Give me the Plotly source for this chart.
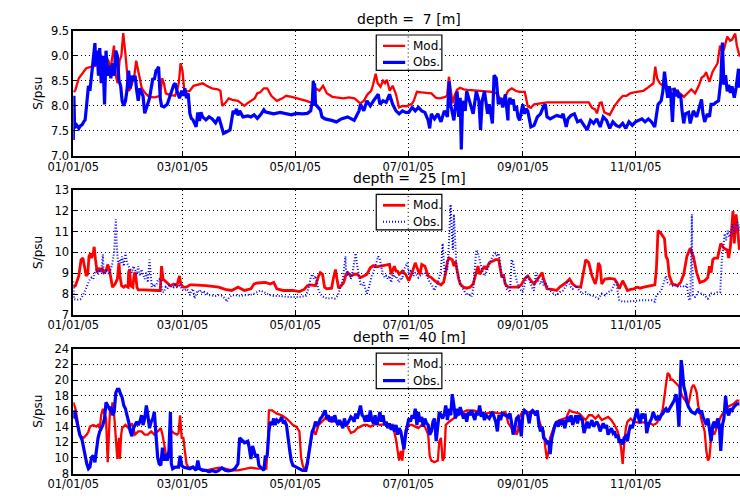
import pandas as pd
import plotly.graph_objects as go

# Salinity (S/psu) at three depths, 2005: model vs. observations.
# Each series is a list of (day-of-year offset from 2005-01-01, salinity) rows.

mod_7m = [(0,8.28),(1,8.30),(3,8.55),(5,8.65),(7,8.75),(10,8.78),(12,8.80),(14,9.05),(15,9.0),(16,8.7),
    (18,8.95),(19,8.9),(20,8.7),(22,9.2),(23,8.6),(24,8.45),(25,8.9),(26,9.0),(27,9.45),(28,9.1),(29,8.7),
    (30,8.3),(31,8.35),(33,8.6),(34,8.9),(35,8.7),(36,8.5),(37,8.35),(39,8.25),(41,8.18),(44,8.17),(47,8.2),
    (48,8.55),(49,8.45),(50,8.25),(52,8.22),(55,8.2),(56,8.3),(57,8.45),(58,8.85),(59,8.7),(60,8.3),(61,8.28),
    (63,8.3),(65,8.4),(67,8.42),(70,8.45),(72,8.4),(75,8.35),(78,8.33),(79.5,8.3),(80.5,8.0),(82,8.05),(84,8.15),
    (86,8.12),(89,8.1),(91,8.05),(92.5,8.0),(94,8.05),(96,8.1),(98,8.15),(99.5,8.25),(101,8.27),(103,8.35),
    (104.8,8.35),(107,8.2),(110,8.1),(113,8.15),(115,8.2),(118,8.18),(121,8.15),(124,8.13),(126,8.1),(128,8.07),
    (130,8.1),(131,8.35),(133,8.3),(135,8.4),(137,8.25),(140,8.18),(143,8.17),(146,8.15),(149,8.17),(152,8.15),
    (155,8.05),(157,8.1),(159,8.23),(161,8.3),(162,8.42),(163.4,8.64),(164.5,8.45),(166,8.38),(167.4,8.5),
    (168.5,8.45),(169.5,8.52),(171,8.3),(172.6,8.4),(174.4,8.23),(176,7.97),(178,8.0),(180,7.99),(183,8.04),
    (184,8.1),(185.7,8.28),(188,8.27),(191,8.26),(193.5,8.25),(196,8.16),(198,8.15),(201,8.18),(202,8.2),
    (203,8.58),(204,8.3),(205,8.05),(206,8.2),(207.4,8.32),(209,8.36),(211,8.33),(213,8.32),(215,8.31),(218,8.3),
    (220,8.3),(223,8.29),(226,8.28),(229,8.25),(231,8.12),(233,8.15),(235,8.3),(237,8.35),(239,8.3),(241,8.28),
    (244,8.28),(245.6,7.99),(247.3,7.96),(249,8.03),(252,8.05),(256,8.07),(260,8.07),(265,8.07),(270,8.08),
    (275,8.07),(278.6,8.07),(280.3,7.96),(282,7.93),(283,7.85),(284.5,8.06),(285.5,8.07),(287,7.87),(289.9,7.82),
    (292.5,8.0),(295,8.12),(297,8.2),(299,8.2),(301,8.25),(303,8.27),(306,8.28),(308,8.3),(310,8.35),(312,8.4),
    (313.5,8.45),(314.5,8.78),(315.5,8.55),(317,8.45),(319,8.38),(321,8.33),(324.7,8.33),(327,8.28),(330,8.18),
    (332,8.25),(334,8.33),(336,8.25),(338,8.4),(339.5,8.56),(341,8.6),(342,8.67),(343.8,8.48),(345.5,8.68),
    (347,8.78),(348.2,8.85),(349.5,9.2),(350.5,9.1),(351.6,9.12),(353.4,9.38),(355,9.3),(356,9.32),(357.7,9.44),
    (358.6,9.2),(360,9.0),(362,9.0),(364,9.1)]

obs_7m = [(0,7.32),(0.35,8.2),(0.7,7.55),(1.2,7.65),(2.1,7.6),(3,7.55),(3.8,7.6),(4.7,7.62),(5.6,7.68),(6.4,7.72),
    (7.3,8.05),(8.2,8.4),(9,8.3),(9.9,8.6),(10.8,8.85),(11.7,9.25),(12.2,8.8),(12.9,9.1),(13.6,8.6),(14.3,9.15),
    (15.1,8.45),(16,9.0),(16.9,8.03),(17.7,9.1),(18.6,8.6),(19.5,8.8),(20.3,8.55),(21.2,8.85),(22.1,8.6),(23,9.1),
    (23.8,9.0),(24.7,8.5),(25.6,8.4),(26.4,8.1),(27.3,8.0),(28.2,8.1),(29,8.3),(29.9,8.7),(30.8,8.35),(31.7,8.6),
    (32.5,8.5),(33.4,8.6),(34.3,8.3),(35.1,8.1),(36,8.35),(36.9,8.25),(37.7,8.2),(38.6,7.85),(39.5,7.95),
    (40.3,8.05),(41.2,8.15),(42.1,8.35),(43,8.55),(43.8,8.52),(44.7,8.7),(45.6,8.74),(46.1,8.78),(47,8.15),
    (47.7,8.0),(49,7.98),(50.8,8.03),(52.5,8.22),(54.3,8.42),(55.1,8.45),(56,8.3),(57.4,8.15),(58.6,8.3),
    (59.5,8.2),(60.3,8.35),(61.2,8.15),(62.1,8.25),(63,7.85),(63.8,7.75),(64.7,7.72),(65.6,7.65),(66.4,7.58),
    (67.3,7.87),(68.2,7.7),(69,7.87),(69.9,7.78),(71.7,7.72),(73.4,7.78),(75.1,7.74),(76.9,7.66),(78.6,7.78),
    (80.3,7.58),(81.2,7.45),(82.9,7.48),(84.7,7.52),(85.6,7.72),(86.4,7.9),(87.3,7.84),(88.2,7.94),(89,7.81),
    (89.9,7.9),(91.7,7.78),(94.3,7.8),(96,7.78),(97.7,7.82),(99.5,7.75),(101.2,7.82),(103,7.92),(103.8,7.88),
    (104.8,7.87),(108.3,7.84),(111.8,7.87),(115.2,7.85),(117.8,7.82),(120.5,7.85),(123.9,7.84),(126.5,7.85),
    (128.3,7.9),(129.2,8.1),(129.7,8.5),(130.1,8.0),(130.4,8.45),(130.9,8.03),(133.5,7.92),(134.4,7.78),
    (136.1,7.74),(139.6,7.71),(142.2,7.68),(144.8,7.74),(148.3,7.78),(151.8,7.71),(154.4,7.9),(155.2,8.03),
    (157,7.9),(158.7,8.1),(160.5,8.0),(162.2,8.1),(164.8,8.23),(165.7,8.03),(167.4,8.1),(169.1,8.07),(170.9,8.23),
    (172.6,8.03),(174.4,7.9),(176.1,7.84),(177.9,7.9),(179.6,7.87),(181.3,7.87),(183.1,7.97),(184.8,7.9),
    (186.5,7.97),(188.3,7.9),(190,7.87),(191.8,7.71),(192.6,7.55),(193.5,7.84),(195.2,7.74),(197,7.84),
    (198.7,7.68),(200.5,7.9),(202.2,7.78),(203.1,8.49),(203.9,8.03),(205.7,7.71),(207.4,8.29),(208.3,7.78),
    (209.1,8.16),(209.7,7.13),(210.4,8.1),(211.8,7.9),(212.6,8.29),(214.4,8.03),(216.1,7.84),(217.8,8.29),
    (219.2,8.1),(220.1,7.52),(221,8.1),(222.2,8.29),(223.9,7.84),(224.8,8.03),(226.5,7.65),(227.4,8.61),
    (228.6,8.55),(229.7,8.03),(230.9,8.16),(232.1,7.97),(233.5,8.23),(234.9,7.71),(235.1,8.03),(236,8.16),
    (236.9,8.03),(237.7,8.13),(238.6,7.9),(239.5,8.0),(240.3,7.78),(241.2,7.71),(242.1,7.9),(242.9,8.03),
    (243.8,7.84),(244.7,7.94),(245.6,7.9),(246.4,7.78),(247.3,7.58),(249,7.61),(249.9,7.71),(250.8,7.78),
    (252.5,7.84),(254.2,8.0),(255.1,8.03),(256,7.78),(257.7,7.74),(259.5,7.78),(261.2,7.81),(263.8,7.78),
    (264.7,7.84),(266.4,7.58),(267.3,7.74),(269,7.81),(270.8,7.84),(272.5,7.68),(274.2,7.71),(276,7.61),
    (277.7,7.52),(279.5,7.71),(281.2,7.65),(282.9,7.74),(284.7,7.58),(286.4,7.78),(288.2,7.71),(289.9,7.55),
    (291.6,7.68),(293.4,7.61),(295.1,7.58),(296.9,7.65),(298.6,7.55),(300.3,7.68),(302.1,7.61),(303.8,7.68),
    (305.6,7.71),(307.3,7.74),(309,7.68),(310.8,7.74),(312.5,7.68),(314.2,7.58),(316,8.03),(317.7,8.1),
    (318.6,8.29),(319.5,8.68),(320.3,8.42),(321.2,8.16),(322.1,8.39),(322.9,8.23),(323.8,7.68),(324.7,8.36),
    (325.6,8.19),(326.4,8.32),(327.3,8.16),(328.2,8.23),(329,7.9),(329.9,7.65),(330.8,7.84),(332.5,7.87),
    (333.4,7.65),(335.1,7.9),(336.9,7.78),(338.6,8.03),(339.5,8.13),(340.3,7.84),(341.2,7.68),(342.6,7.84),
    (343.8,7.78),(344.7,8.03),(346.1,8.03),(347.3,8.07),(348.7,8.1),(349.9,8.49),(350.8,9.26),(351.6,8.42),
    (352.5,8.61),(353.4,8.29),(354.2,8.42),(355.1,8.26),(356,8.39),(357.2,8.16),(358.2,8.36),(359.5,8.74),(360,8.36)]

mod_25m = [(0,8.33),(1.2,8.40),(3,8.87),(4.2,9.65),(5.2,9.73),(6.1,9.18),(7,8.87),(7.8,8.95),(8.5,9.81),(9.4,9.96),
    (9.9,9.73),(10.8,9.96),(11.3,10.27),(12,9.65),(12.9,9.03),(13.6,9.26),(14.6,9.10),(15.5,9.26),(16.5,9.03),
    (17.7,9.10),(18.6,9.42),(19.5,9.18),(20.3,8.72),(21.2,8.33),(22.6,8.48),(23.8,8.72),(24.7,9.50),(25.2,8.87),
    (26.1,8.40),(27.3,8.33),(28.2,8.40),(29.6,8.33),(29.9,9.03),(30.4,9.18),(31.1,8.40),(32.2,8.33),(33,9.03),
    (33.7,8.95),(34.4,8.33),(35.1,8.20),(38.6,8.20),(42.1,8.17),(45.6,8.17),(47,8.17),(47.7,9.34),(48.5,8.72),
    (49.4,8.64),(50.8,8.56),(52.5,8.40),(54.3,8.48),(56,8.40),(57.4,8.87),(58.1,8.48),(59.5,8.33),(61.2,8.33),
    (63,8.44),(64.7,8.44),(71.7,8.40),(78.6,8.33),(82.1,8.22),(85.6,8.17),(89,8.33),(92.5,8.17),(96,8.25),
    (97.7,8.48),(99.5,8.53),(103.8,8.56),(106.5,8.48),(108.3,8.56),(110,8.25),(113.5,8.17),(118.7,8.17),
    (122.2,8.12),(124.8,8.22),(126.5,8.40),(128.3,8.44),(130.9,8.40),(132.6,8.87),(133.5,9.03),(134.7,8.95),
    (135.8,8.33),(137,8.25),(139.6,8.28),(140.5,8.72),(141.7,9.18),(142.5,8.72),(143.4,8.28),(144.8,8.40),
    (146.2,8.56),(147.4,8.95),(148.3,9.03),(150,8.87),(151.8,8.95),(153.5,8.95),(155.2,8.79),(157,8.87),
    (158.7,8.95),(160.5,9.26),(162.2,9.37),(163.9,9.31),(165.7,9.34),(167.4,9.37),(169.1,9.37),(170.9,9.42),
    (171.8,8.95),(172.6,9.18),(173.5,9.34),(174.4,9.10),(175.2,9.10),(176.1,8.95),(177.8,9.10),(179.6,8.95),
    (181.3,8.64),(183.1,9.03),(184.8,9.50),(186.5,9.10),(187.4,8.95),(188.3,9.42),(190,9.34),(191.8,8.87),
    (193.5,8.79),(195.2,8.64),(197,8.53),(198.7,8.44),(200.1,8.56),(201.3,9.03),(202.2,9.57),(203.1,9.73),
    (204.8,9.65),(205.7,9.34),(206.5,9.57),(207.4,9.03),(208.3,8.72),(209.1,8.48),(210.9,8.33),(212.6,8.28),
    (214.4,8.33),(216.1,8.48),(217.8,9.03),(218.7,9.34),(219.6,8.95),(221,9.18),(222.2,9.34),(223.1,9.18),
    (224.8,9.50),(226.5,9.57),(228.2,9.65),(229.9,9.65),(230.8,9.18),(231.6,8.79),(232.5,8.95),(233.4,8.48),
    (235.1,8.33),(237.7,8.33),(240.3,8.33),(242.1,8.44),(243.8,8.72),(245.6,8.87),(247.3,8.64),(249,8.48),
    (250.8,8.72),(252.5,8.95),(253.4,9.03),(254.2,8.72),(256,8.25),(258.6,8.22),(261.2,8.17),(262.9,8.33),
    (264.7,8.44),(266.4,8.56),(268.2,8.72),(269.9,8.48),(271.6,8.36),(274.2,8.33),(276,9.18),(276.9,9.65),
    (278.6,9.50),(280.3,8.87),(282.1,8.48),(282.9,8.79),(283.8,9.50),(284.7,9.34),(285.6,8.48),(287.3,8.72),
    (289.9,8.75),(292.5,8.72),(294.2,8.48),(295.1,8.25),(296.9,8.64),(298.1,8.40),(299.5,8.17),(301.2,8.22),
    (302.9,8.25),(304.7,8.33),(306.4,8.28),(308.2,8.33),(309.9,8.37),(311.6,8.40),(314.3,8.44),(315.1,9.18),
    (316,11.05),(317.7,10.9),(319.5,10.66),(320.3,9.81),(321.2,9.65),(322.1,8.87),(323.8,8.48),(326.4,8.40),
    (328.2,8.56),(329.9,8.95),(331.6,9.81),(333.4,10.2),(335.1,9.81),(336.9,9.03),(338.6,8.56),(341.2,8.64),
    (342.9,8.79),(343.8,9.34),(344.7,9.03),(345.6,9.65),(346.4,9.73),(348.2,9.73),(349.9,10.43),(351.6,10.2),
    (353.4,10.12),(354.2,9.73),(355.1,10.27),(356.5,11.99),(357.2,10.43),(358.2,11.83),(358.9,11.2),(360,10.12)]

obs_25m = [(0,8.6),(0.4,7.75),(2.1,7.72),(3.8,7.75),(4.7,7.85),(5.6,8.0),(6.4,8.2),(7.3,8.35),(8.2,8.55),(9,8.72),
    (9.9,8.79),(10.8,8.72),(11.7,9.03),(12.5,9.18),(13.4,8.95),(14.2,9.1),(15.1,9.03),(16,9.9),(16.4,9.0),
    (16.9,8.95),(17.7,9.2),(18.6,9.03),(19.5,8.95),(20.3,9.18),(21.2,9.5),(22.1,10.04),(22.6,10.8),(23,11.6),
    (23.5,10.3),(24.2,9.5),(25,9.65),(25.9,9.5),(26.4,9.81),(27.3,9.34),(28.2,10.0),(29,9.5),(29.9,9.34),
    (30.8,9.18),(31.7,9.03),(32.5,9.34),(33.4,9.18),(34.3,8.95),(35.1,9.34),(36,8.87),(36.9,9.18),(37.7,8.95),
    (38.6,8.72),(39.5,9.03),(40.3,8.56),(41.2,9.65),(41.7,8.87),(42.4,8.33),(43.3,8.48),(44.2,8.40),(45,8.48),
    (45.9,8.72),(47,8.72),(48.2,8.09),(49,8.09),(49.9,8.33),(50.8,8.25),(51.7,8.40),(52.5,8.33),(53.4,8.40),
    (54.3,8.33),(55.1,8.44),(56,8.33),(56.9,8.33),(57.7,8.48),(58.6,8.22),(59.5,8.17),(60.3,8.17),(61.2,8.25),
    (62.1,8.17),(63,7.94),(63.8,8.17),(64.7,8.25),(65.6,7.78),(66.4,8.02),(67.3,8.17),(68.2,8.09),(69,8.17),
    (69.9,8.02),(70.8,8.09),(71.7,7.94),(72.5,8.02),(73.4,7.94),(75.1,7.91),(76.9,7.91),(78.6,7.94),(80.3,7.91),
    (82.1,7.78),(83,7.63),(83.8,7.78),(85.6,7.94),(87.3,7.94),(89,7.91),(90.8,7.91),(92.5,7.94),(94.3,7.94),
    (96,7.97),(97.7,8.02),(99.5,8.09),(101.2,8.17),(103,8.09),(104.8,8.02),(106.5,7.94),(108.3,7.91),
    (111.8,7.91),(115.2,7.86),(118.7,7.86),(122.2,7.86),(125.7,7.91),(126.5,8.09),(127.4,8.40),(128.3,8.79),
    (129.1,8.95),(130,8.72),(130.9,8.87),(131.8,8.56),(132.6,8.17),(133.5,8.02),(134.4,7.91),(136.1,7.81),
    (137.8,7.78),(139.6,7.81),(141.3,7.78),(143.1,7.94),(143.9,8.17),(144.8,8.40),(145.7,8.72),(146.5,9.34),
    (147.1,9.81),(147.4,9.18),(148.3,8.95),(149.1,9.03),(150,8.72),(150.9,9.03),(151.8,9.65),(152.6,9.96),
    (153.5,9.34),(154.4,8.79),(155.2,8.48),(156.1,8.40),(157,8.56),(157.8,8.25),(158.7,8.02),(159.6,8.25),
    (160.5,8.56),(161.3,8.87),(162.2,9.03),(163.1,9.34),(163.9,9.5),(164.8,9.81),(165.7,9.65),(166.5,9.34),
    (167.4,8.95),(168.3,8.79),(169.1,8.87),(170,8.72),(170.9,8.87),(171.8,8.56),(172.6,8.95),(173.5,8.79),
    (174.4,8.87),(176.1,8.56),(177,8.79),(177.8,8.72),(178.7,9.18),(179.6,9.34),(180.5,9.5),(181.3,8.95),
    (182.2,9.1),(183.1,9.03),(183.9,8.87),(184.8,9.03),(186.5,8.79),(188.3,8.95),(190,9.03),(191.8,8.72),
    (192.6,8.56),(193.5,8.48),(194.4,8.33),(195.2,8.17),(196.1,8.40),(197,8.56),(197.8,8.79),(198.7,9.18),
    (199.6,10.43),(200.1,9.65),(200.8,8.87),(201.3,9.34),(202.2,9.18),(203.1,10.58),(203.9,12.3),(204.5,11.2),
    (205.1,10.12),(205.7,11.83),(206.2,10.58),(206.9,9.65),(207.4,9.03),(208.3,8.87),(209.1,8.48),(210,8.33),
    (210.9,8.17),(211.8,8.09),(212.6,7.94),(213.5,8.02),(214.4,7.94),(215.2,7.86),(216.1,8.25),(217,9.18),
    (217.8,10.12),(218.7,9.96),(219.6,9.65),(220.5,9.34),(221.3,9.03),(222.2,8.87),(223.1,9.03),(223.9,9.18),
    (224.8,9.42),(225.7,9.65),(226.5,9.81),(227.4,9.89),(228.2,9.96),(229.1,9.81),(229.9,9.96),(230.8,9.34),
    (231.6,8.79),(232.5,8.87),(233.4,8.56),(234.2,8.25),(235.1,8.17),(236,8.09),(236.9,9.65),(237.7,9.5),
    (238.6,9.03),(239.5,8.72),(240.3,8.40),(241.2,8.25),(242.1,8.17),(242.9,8.09),(243.8,8.40),(244.7,8.79),
    (245.6,8.87),(246.4,8.72),(247.3,8.48),(248.2,8.25),(249,8.17),(249.9,9.03),(250.8,8.79),(251.6,8.56),
    (252.5,8.48),(253.4,8.72),(254.2,8.40),(255.1,8.56),(256,8.40),(257.7,8.17),(259.5,8.02),(261.2,7.94),
    (262.9,8.09),(264.7,8.17),(266.4,8.40),(267.3,8.64),(268.2,8.48),(269,8.33),(269.9,8.25),(271.6,8.40),
    (273.4,8.17),(275.1,8.02),(276.9,8.09),(278.6,7.94),(280.3,7.94),(282.1,7.86),(283.8,7.78),(285.6,8.02),
    (287.3,7.94),(289,8.09),(290.8,8.17),(292.5,8.48),(293.4,8.64),(294.2,8.09),(295.1,7.70),(296.9,7.63),
    (299.5,7.63),(302.9,7.66),(306.4,7.70),(309.9,7.70),(312.5,7.70),(314.2,7.63),(315.1,7.94),(316.9,8.09),
    (317.7,8.17),(318.6,8.40),(319.5,8.72),(320.3,8.87),(321.2,8.56),(322.1,8.48),(323.8,8.40),(325.6,8.44),
    (327.3,8.33),(329,8.40),(330.8,8.33),(331.6,8.48),(332.5,7.78),(333.4,7.70),(334.1,10.6),(334.3,11.83),
    (334.5,9.5),(334.8,7.94),(336,7.86),(337.7,8.09),(339.5,8.02),(341.2,7.94),(342.9,7.78),(344.7,8.02),
    (346.4,8.02),(348.2,8.09),(349.6,8.09),(350.5,9.65),(351.3,10.27),(352,10.9),(352.8,10.58),(353.7,11.05),
    (354.5,10.74),(355.4,10.9),(356.2,11.36),(357.1,10.9),(358,11.2),(358.8,11.52),(359.6,11.05),(360.5,11.36)]

mod_40m = [(0,17.14),(1.2,16.31),(2.1,15.06),(3,13.4),(3.8,12.78),(5.6,12.57),(7.3,12.99),(8.2,13.4),(9,14.02),
    (10.8,14.23),(12.5,14.02),(13.4,14.23),(14.3,13.82),(15.1,15.48),(16,16.31),(16.9,15.69),(17.7,15.06),
    (18.6,9.45),(19.1,12.15),(19.8,15.9),(20.5,15.69),(21.2,17.14),(22.1,15.48),(23,12.99),(23.8,9.87),
    (24.7,12.57),(25.2,9.87),(25.9,12.99),(26.4,13.82),(28.2,14.23),(29.9,13.82),(31.7,14.44),(33.4,12.99),
    (35.1,13.4),(36.9,13.4),(38.6,12.99),(40.3,12.99),(42.1,13.4),(43.8,12.99),(45.6,13.4),(47.3,13.82),
    (48.2,12.99),(49,11.74),(49.9,10.7),(50.8,9.66),(51.7,10.49),(52.5,13.4),(53.4,13.4),(54.3,13.19),(56,12.99),
    (56.9,13.19),(57.7,15.48),(58.6,12.57),(59.5,12.57),(60.3,10.91),(61.2,9.25),(62.1,8.83),(64.7,8.75),
    (68.2,8.62),(71.7,8.41),(75.1,8.62),(78.6,8.75),(82.1,8.62),(85.6,8.41),(89,8.41),(92.5,8.62),(96,8.75),
    (99.5,8.62),(104.3,8.62),(105.2,12.0),(105.7,16.1),(107.4,16.1),(110,15.69),(112.6,15.48),(115.2,15.06),
    (117,14.65),(118.7,14.23),(120.5,14.02),(122.2,13.4),(123.1,10.07),(124,9.04),(124.8,8.62),(125.7,8.83),
    (126.5,9.66),(127.4,10.91),(128.3,12.57),(129.1,13.19),(130,13.4),(130.9,12.99),(132.6,14.23),(134.4,14.65),
    (136.1,15.06),(137.8,14.86),(139.6,14.65),(141.3,14.73),(143.1,14.65),(144.8,14.57),(146.5,14.44),
    (148.3,14.02),(150,13.19),(151.8,13.4),(153.5,13.82),(155.2,14.02),(157,14.23),(158.7,14.23),(160.5,14.02),
    (163.9,14.44),(165.7,14.23),(167.4,14.3),(169.1,14.23),(170.9,14.02),(172.6,14.23),(174.4,12.36),
    (175.2,10.91),(176.1,9.66),(177,10.91),(177.8,9.66),(178.7,11.74),(179.6,13.61),(181.3,14.23),(183.1,14.23),
    (184.8,14.02),(186.5,13.82),(188.3,14.23),(190,14.02),(191.8,12.99),(192.6,10.28),(193.5,9.66),(195.2,9.45),
    (197,9.66),(197.8,12.15),(198.7,12.57),(199.6,9.66),(200.5,10.07),(201.3,14.23),(203.1,14.65),(205.7,15.06),
    (209.1,15.69),(212.6,16.1),(216.1,16.1),(219.6,15.9),(223.1,15.69),(226.5,15.9),(230,15.69),(233.5,15.9),
    (235.1,14.44),(236.9,13.82),(237.7,13.4),(238.6,14.02),(239.5,12.99),(240.3,13.4),(241.2,15.27),
    (242.1,15.69),(243.8,16.1),(245.6,15.9),(247.3,15.69),(249,15.9),(250.8,15.69),(252.5,14.23),(254.2,13.4),
    (255.1,11.32),(256,9.87),(256.9,10.91),(257.7,12.57),(259.5,13.82),(261.2,14.65),(262.9,14.86),(264.7,15.06),
    (266.4,15.15),(268.2,16.1),(269.9,15.9),(271.6,15.81),(273.4,15.69),(275.1,15.27),(276.9,14.86),
    (278.6,15.48),(280.3,15.48),(282.1,15.06),(283.8,15.48),(285.6,14.86),(287.3,15.06),(289,15.27),
    (290.8,14.86),(292.5,14.23),(294.2,13.4),(295.1,12.57),(296,11.32),(296.9,9.25),(297.7,11.74),(298.6,13.82),
    (299.5,14.65),(301.2,15.06),(302.9,14.65),(304.7,14.57),(308.2,14.57),(311.6,14.44),(313.4,14.23),
    (315.1,14.44),(316.9,15.06),(318.6,16.31),(320.3,19.4),(321.2,20.9),(322.1,20.68),(322.9,20.05),(323.8,20.05),
    (324.7,19.84),(325.6,19.63),(327.3,19.2),(329,17.97),(330.8,17.35),(332.5,16.94),(334.2,19.0),(335.1,19.4),
    (336,19.0),(336.9,18.39),(337.7,16.73),(338.6,15.9),(339.5,14.86),(341.2,13.4),(342.1,10.91),(343,9.66),
    (343.8,10.07),(344.7,12.57),(345.6,13.4),(346.4,12.99),(348.2,14.23),(349.9,15.27),(351.6,15.9),(353.4,16.52),
    (355.1,16.73),(356.9,16.94),(358.6,17.35),(360,17.35)]

obs_40m = [(0,15.06),(0.7,16.1),(1.6,15.06),(2.4,14.23),(3.5,12.99),(4.7,12.36),(5.6,11.32),(6.4,10.07),(7.3,9.25),
    (8.2,8.62),(9,8.83),(9.9,10.07),(10.8,10.28),(11.7,9.45),(12.5,10.91),(13.4,12.57),(14.3,13.4),(15.1,13.82),
    (16,14.23),(16.9,15.06),(17.7,17.14),(18.6,16.73),(19.5,16.31),(20.3,16.52),(21.2,15.48),(22.1,15.9),
    (23,18.39),(23.8,18.8),(24.7,18.8),(25.6,18.18),(26.4,17.76),(27.3,16.73),(28.2,16.31),(29,15.48),
    (29.9,14.65),(30.8,13.4),(31.7,12.78),(32.5,13.82),(33.4,14.23),(34.3,14.65),(35.1,14.23),(36,14.65),
    (36.9,15.48),(37.7,14.23),(38.6,15.06),(39.5,16.73),(40.3,15.48),(41.2,13.82),(42.1,14.65),(43,15.06),
    (43.8,15.9),(44.7,12.99),(45.6,10.07),(46.4,9.25),(47.3,9.04),(48.2,11.32),(49,9.66),(49.9,10.49),
    (50.8,9.66),(51.7,10.91),(52.5,15.9),(53,9.25),(53.7,8.62),(55.1,8.83),(56.9,8.83),(57.7,10.28),(58.6,9.04),
    (59.5,8.83),(61.2,8.75),(63,8.62),(64.7,8.83),(66.4,8.41),(67.3,9.66),(68.2,8.62),(69.9,8.41),(71.7,8.41),
    (73.4,8.21),(75.1,8.41),(76.9,8.21),(78.6,8.41),(80.3,8.75),(82.1,8.41),(83.8,8.33),(85.6,8.41),(87.3,8.62),
    (89,9.25),(89.9,12.57),(90.8,12.36),(92.5,11.95),(94.3,12.15),(95.1,11.32),(96,9.87),(96.9,11.53),
    (97.7,10.91),(98.6,10.07),(99.5,10.49),(100.3,9.04),(101.2,8.83),(103,8.41),(103.8,10.28),(104.3,10.07),
    (104.8,10.28),(105.7,13.4),(106.5,14.65),(107.4,14.23),(108.3,15.06),(109.1,14.23),(110,14.86),(110.9,14.65),
    (111.8,14.86),(112.6,15.27),(113.5,14.44),(114.4,14.65),(115.2,14.23),(116.1,12.15),(117,10.91),(117.8,9.66),
    (118.7,9.04),(120.5,8.83),(122.2,8.62),(123.9,8.41),(125.7,8.41),(126.5,9.25),(127.4,10.70),(128.3,12.15),
    (129.1,13.4),(130,13.82),(130.9,14.65),(131.8,14.23),(132.6,14.44),(133.5,15.06),(134.4,15.27),(135.2,15.69),
    (136.1,16.1),(137,15.06),(137.8,15.48),(138.7,14.65),(139.6,15.27),(140.5,14.65),(141.3,15.48),(142.2,14.65),
    (143.1,14.23),(143.9,14.86),(144.8,14.23),(145.7,13.82),(146.5,15.06),(147.4,14.23),(148.3,14.44),
    (149.1,14.86),(150,15.27),(150.9,15.06),(151.8,14.65),(152.6,15.69),(153.5,15.06),(154.4,15.9),(155.2,16.73),
    (156.1,15.48),(157,15.27),(157.8,14.65),(158.7,15.48),(159.6,14.65),(160.5,16.1),(161.3,14.86),(162.2,14.44),
    (163.1,15.48),(163.9,14.23),(164.8,14.86),(165.7,15.9),(166.5,14.65),(167.4,15.48),(168.3,14.23),
    (169.1,14.65),(170,13.82),(170.9,14.44),(171.8,13.61),(172.6,14.23),(173.5,13.4),(174.4,14.23),(175.2,12.99),
    (176.1,13.82),(177,13.4),(177.8,12.15),(178.7,11.12),(179.6,12.99),(180.5,14.23),(181.3,15.06),(182.2,14.65),
    (183.1,15.48),(184,15.06),(184.8,16.31),(185.7,14.23),(186.5,15.9),(187.4,14.65),(188.3,15.27),(189.1,14.02),
    (190,15.06),(190.9,14.44),(191.8,14.23),(192.6,12.99),(193.5,13.4),(194.4,14.65),(195.2,15.06),(196.1,12.15),
    (197,14.23),(197.8,15.9),(198.7,15.48),(199.6,15.06),(200.5,15.69),(201.3,16.73),(202.2,14.86),(203.1,16.31),
    (204,15.48),(204.8,18.18),(205.7,16.73),(206.5,15.06),(207.4,16.31),(208.3,15.48),(209.1,16.52),(210,15.9),
    (210.9,15.06),(211.8,15.69),(212.6,14.65),(213.5,15.9),(214.4,15.48),(215.2,16.1),(216.1,15.48),(217,14.86),
    (217.8,15.9),(218.7,15.48),(219.6,16.73),(220.5,15.27),(221.3,15.9),(222.2,14.86),(223.1,15.48),(224.8,15.06),
    (226.5,15.9),(227.4,15.27),(228.3,14.65),(229.2,13.4),(230,15.48),(230.9,14.86),(231.8,15.69),(233.5,15.48),
    (234.9,15.27),(235.1,15.48),(236,15.69),(236.9,14.44),(237.7,12.99),(238.6,13.82),(239.5,15.06),(240.3,15.27),
    (241.2,14.65),(242.1,12.78),(242.9,15.48),(243.8,16.1),(244.7,15.9),(245.6,15.48),(246.4,14.44),(247.3,15.9),
    (248.2,16.1),(249,15.9),(249.9,15.48),(250.8,16.1),(251.6,14.23),(252.5,13.4),(253.4,14.02),(254.2,12.57),
    (255.1,12.36),(256,11.95),(256.9,12.15),(257.7,10.49),(258.6,12.57),(259.5,13.4),(260.3,14.23),(261.2,14.65),
    (262.1,14.02),(262.9,14.86),(263.8,14.23),(264.7,14.86),(265.6,13.82),(266.4,14.65),(267.3,15.27),
    (268.2,14.65),(269,15.48),(269.9,14.23),(270.8,14.86),(271.6,15.48),(272.5,14.44),(273.4,15.48),(274.2,15.06),
    (275.1,14.86),(276,13.19),(276.9,14.23),(277.7,14.65),(278.6,13.82),(279.5,14.44),(280.3,14.86),(281.2,14.02),
    (282.1,14.44),(282.9,14.65),(283.8,14.23),(284.7,13.4),(285.6,14.02),(286.4,14.44),(287.3,13.82),(288.2,14.23),
    (289,12.99),(289.9,13.4),(290.8,13.82),(291.7,13.19),(292.5,13.4),(293.4,12.57),(294.2,12.99),(295.1,11.95),
    (296,12.36),(296.9,11.74),(297.7,12.57),(298.6,12.78),(299.5,12.15),(300.3,13.4),(301.2,14.23),(302.1,13.82),
    (302.9,14.65),(303.8,15.48),(304.7,16.31),(305.6,15.06),(306.4,14.44),(307.3,15.69),(308.2,15.06),(309,15.69),
    (309.9,13.19),(310.8,14.23),(311.6,14.65),(312.5,15.06),(313.4,15.9),(314.2,15.48),(315.1,14.86),(316,15.27),
    (316.9,15.06),(317.7,15.48),(318.6,15.69),(319.5,16.1),(320.3,16.31),(321.2,15.9),(322.1,16.31),(323,16.52),
    (323.8,16.94),(324.7,17.35),(325.7,18.18),(326.4,17.14),(327.3,14.02),(327.8,18.39),(328.5,22.55),(329,21.72),
    (329.9,19.2),(330.8,18.39),(331.6,17.14),(332.5,16.52),(333.4,16.1),(334.2,15.9),(336,15.69),(337.7,16.31),
    (338.6,15.69),(339.5,16.1),(340.3,15.27),(341.2,14.65),(342.1,14.23),(343,15.06),(343.8,13.82),(344.7,12.15),
    (345.6,14.23),(346.4,14.65),(347.3,13.82),(348.2,15.06),(349.1,14.23),(349.9,10.91),(350.8,14.23),
    (351.6,15.06),(352.5,17.97),(353.4,15.9),(354.2,15.48),(355.1,16.31),(356,16.1),(356.9,16.52),(358.6,16.94),
    (360,16.94)]

DEPTHS = [7, 25, 40]
Y_RANGES = [(7.0, 9.5), (7, 13), (8, 24)]
Y_TICKS = [[7.0, 7.5, 8.0, 8.5, 9.0, 9.5], [7, 8, 9, 10, 11, 12, 13], [8, 10, 12, 14, 16, 18, 20, 22, 24]]
Y_FORMATS = [".1f", "d", "d"]
X_TICKS = ["2005-01-01", "2005-03-01", "2005-05-01", "2005-07-01", "2005-09-01", "2005-11-01"]
X_END = "2005-12-27 07:12"
LEGEND_LABELS = ["Mod.", "Obs."]
MODEL = [mod_7m, mod_25m, mod_40m]
OBSERVED = [obs_7m, obs_25m, obs_40m]

START = pd.Timestamp("2005-01-01")


def to_xy(rows):
    days, vals = zip(*rows)
    return START + pd.to_timedelta(list(days), unit="D"), list(vals)


FONT = "DejaVu Sans"
W, H = 740, 499
LEFT = 49
# panel pixel extents (top, bottom)
PANELS = [(24.3, 153.3), (188.3, 316.7), (351.7, 480.0)]
RED, BLUE = "#ff0000", "#0000ff"


def px(x):
    return x / W


def py(y):
    return (H - y) / H


fig = go.Figure()

line_styles = []
for i in range(3):
    n = "" if i == 0 else str(i + 1)
    xm, ym = to_xy(MODEL[i])
    xo, yo = to_xy(OBSERVED[i])
    mod_line = dict(color=RED, width=2.3 if i != 1 else 2.8)
    if i == 1:
        obs_line = dict(color=BLUE, width=2, dash="1px,2px")
    else:
        obs_line = dict(color=BLUE, width=3.2)
    line_styles.append((mod_line, obs_line))
    fig.add_trace(go.Scatter(x=xm, y=ym, mode="lines", name=LEGEND_LABELS[0], line=mod_line,
                             xaxis="x" + n, yaxis="y" + n, showlegend=False))
    fig.add_trace(go.Scatter(x=xo, y=yo, mode="lines", name=LEGEND_LABELS[1], line=obs_line,
                             xaxis="x" + n, yaxis="y" + n, showlegend=False))

layout = dict(
    width=W, height=H, margin=dict(l=0, r=0, t=0, b=0),
    paper_bgcolor="white", plot_bgcolor="white",
    font=dict(family=FONT, size=12, color="black"),
    showlegend=False,
)

annotations = []
shapes = []
for i in range(3):
    n = "" if i == 0 else str(i + 1)
    top, bot = PANELS[i]
    layout["xaxis" + n] = dict(
        domain=[LEFT / W, 1], anchor="y" + n, type="date",
        range=["2005-01-01", X_END],
        tickvals=X_TICKS, tickformat="%m/%d/%y",
        showline=True, linecolor="black", linewidth=1.6, mirror=True,
        ticks="inside", ticklen=4, tickcolor="black", ticklabelstandoff=-1,
        showgrid=True, gridcolor="black", gridwidth=1, griddash="1px,3px",
        tickfont=dict(family=FONT, size=11.5, color="black"),
        zeroline=False,
    )
    layout["yaxis" + n] = dict(
        domain=[py(bot), py(top)], anchor="x" + n,
        range=list(Y_RANGES[i]), tickvals=Y_TICKS[i], tickformat=Y_FORMATS[i],
        showline=True, linecolor="black", linewidth=1.6, mirror=False,
        ticks="inside", ticklen=4, tickcolor="black",
        showgrid=True, gridcolor="black", gridwidth=1, griddash="1px,3px",
        tickfont=dict(family=FONT, size=11.5, color="black"),
        zeroline=False,
    )

    # legend box with the two entries
    bx0, bx1, by0, by1 = 363, 431, top + 4.5, top + 41
    shapes.append(dict(type="rect", xref="paper", yref="paper", layer="above",
                       x0=px(bx0), x1=px(bx1), y0=py(by1), y1=py(by0),
                       fillcolor="white", line=dict(color="black", width=1.2)))
    # the July grid line shows through the legend frame
    shapes.append(dict(type="line", xref="x" + n, yref="paper", layer="above",
                       x0="2005-07-01", x1="2005-07-01", y0=py(by1 - 1), y1=py(by0 + 1),
                       line=dict(color="black", width=1, dash="1px,3px")))
    for k, style in enumerate(line_styles[i]):
        ry = top + 15.7 + 17 * k
        shapes.append(dict(type="line", xref="paper", yref="paper", layer="above",
                           x0=px(370), x1=px(393), y0=py(ry), y1=py(ry), line=style))
        annotations.append(dict(
            text=LEGEND_LABELS[k], xref="paper", yref="paper", x=px(399.5), y=py(ry),
            xanchor="left", yanchor="middle", showarrow=False,
            font=dict(family=FONT, size=12, color="black")))

    annotations.append(dict(
        text="depth = \u00a0" + str(DEPTHS[i]) + " [m]", xref="paper", yref="paper",
        x=px(397), y=py(top - 2), xanchor="center", yanchor="bottom",
        showarrow=False, font=dict(family=FONT, size=14, color="black")))
    annotations.append(dict(
        text="S/psu", xref="paper", yref="paper", textangle=-90,
        x=px(13), y=py((top + bot) / 2), xanchor="center", yanchor="middle",
        showarrow=False, font=dict(family=FONT, size=12, color="black")))

layout["annotations"] = annotations
layout["shapes"] = shapes
fig.update_layout(**layout)

fig.write_html("out.html")
